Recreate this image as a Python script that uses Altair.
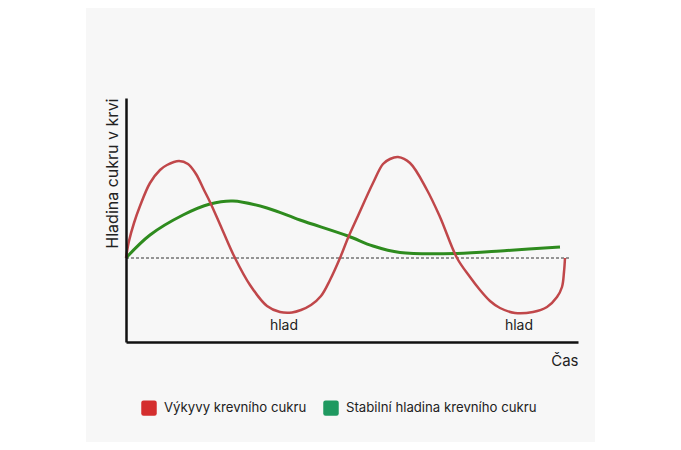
import altair as alt
import pandas as pd

# Values (arbitrary units: time from the y axis, level from the baseline)
red_time = [0, 3, 8, 14, 24, 34, 41, 53, 62, 70, 78, 84, 96, 109, 124, 141, 154, 166,
            175, 185, 195, 204, 214, 222, 231, 247, 257, 264, 272, 284, 301, 314, 331,
            344, 354, 364, 374, 389, 407, 421, 431, 436, 438, 439]
red_level = [0, 17, 35, 52, 75, 88, 93, 97, 94, 84, 68, 56, 29, 0, -27, -48, -54, -54.5,
             -52, -47, -38, -22, 0, 20, 40, 75, 94, 99, 101, 95, 68, 41, 0,
             -19, -32, -43, -50, -55, -54, -49, -39, -29, -14, 0]

green_time = [0, 24, 57, 84, 107, 141, 174, 222, 247, 274, 331, 381, 434]
green_level = [0, 23, 43, 54, 57, 50, 38, 22, 12, 5.5, 4.5, 7.5, 11]

series_names = ["Výkyvy krevního cukru", "Stabilní hladina krevního cukru"]
line_colors = ["#c0474a", "#2e8b1e"]
legend_colors = ["#d42e2e", "#1f9960"]

hunger_time = [158, 393]
hunger_level = [-68, -68]
hunger_labels = ["hlad", "hlad"]

baseline_time = [0, 444]

red_df = pd.DataFrame({"t": red_time, "v": red_level})
green_df = pd.DataFrame({"t": green_time, "v": green_level})
hunger_df = pd.DataFrame({"t": hunger_time, "v": hunger_level, "label": hunger_labels})
base_df = pd.DataFrame({"t": baseline_time, "v": [0, 0]})
legend_df = pd.DataFrame({"legend_series": series_names, "t": [0, 0], "v": [0, 0]})

xs = alt.Scale(domain=[0, 452], nice=False, zero=False)
ys = alt.Scale(domain=[-84, 160], nice=False, zero=False)

panel = alt.Chart(pd.DataFrame({"a": [0]})).mark_rect(color="#f7f7f7").encode(
    x=alt.value(-40), x2=alt.value(469), y=alt.value(-98), y2=alt.value(360)
)

rounded_square = "M-0.7,-1 H0.7 Q1,-1 1,-0.7 V0.7 Q1,1 0.7,1 H-0.7 Q-1,1 -1,0.7 V-0.7 Q-1,-1 -0.7,-1 Z"

# invisible points that only carry the legend
legend_layer = alt.Chart(legend_df).mark_point(filled=True, size=0, opacity=1,
                                                strokeWidth=0).encode(
    x=alt.X("t:Q", scale=xs),
    y=alt.Y("v:Q", scale=ys),
    fill=alt.Fill("legend_series:N",
                  scale=alt.Scale(domain=series_names, range=legend_colors),
                  legend=alt.Legend(title=None, orient="none", direction="horizontal",
                                    legendX=15, legendY=302, padding=0, zindex=1,
                                    symbolType=rounded_square, symbolSize=240,
                                    symbolOpacity=1, symbolStrokeWidth=0,
                                    symbolStrokeColor="transparent",
                                    labelFont="Inter", labelFontSize=13.2,
                                    labelColor="#222222", labelOffset=7,
                                    columnPadding=16, labelLimit=400)),
)

baseline = alt.Chart(base_df).mark_line(
    color="#333333", strokeDash=[3, 2], strokeWidth=1
).encode(
    x=alt.X("t:Q", scale=xs,
            axis=alt.Axis(title="Čas", titleAnchor="end", titlePadding=11,
                          ticks=False, labels=False, grid=False, zindex=1,
                          domainColor="#111111", domainWidth=2.5,
                          titleFontWeight="normal", titleFontSize=15,
                          titleColor="#222222", titleFont="Inter")),
    y=alt.Y("v:Q", scale=ys,
            axis=alt.Axis(title="Hladina cukru v krvi", titleAnchor="end",
                          titlePadding=6, ticks=False, labels=False, grid=False,
                          zindex=1,
                          domainColor="#111111", domainWidth=2.5,
                          titleFontWeight="normal", titleFontSize=16,
                          titleColor="#222222", titleFont="Inter")),
)

red_line = alt.Chart(red_df).mark_line(
    interpolate="catmull-rom", color=line_colors[0], strokeWidth=2.5
).encode(x=alt.X("t:Q", scale=xs), y=alt.Y("v:Q", scale=ys))

green_line = alt.Chart(green_df).mark_line(
    interpolate="catmull-rom", color=line_colors[1], strokeWidth=3
).encode(x=alt.X("t:Q", scale=xs), y=alt.Y("v:Q", scale=ys))

hunger = alt.Chart(hunger_df).mark_text(
    font="Inter", fontSize=14, color="#222222"
).encode(
    x=alt.X("t:Q", scale=xs),
    y=alt.Y("v:Q", scale=ys),
    text="label:N",
)

chart = alt.layer(panel, legend_layer, baseline, green_line, red_line, hunger).properties(
    width=452, height=244,
    autosize=alt.AutoSizeParams(type="none"),
    padding={"left": 118, "top": 90, "right": 95, "bottom": 100},
    background="white",
).configure_view(stroke=None)

chart.save("out.html", embed_options={"renderer": "svg", "actions": False})
